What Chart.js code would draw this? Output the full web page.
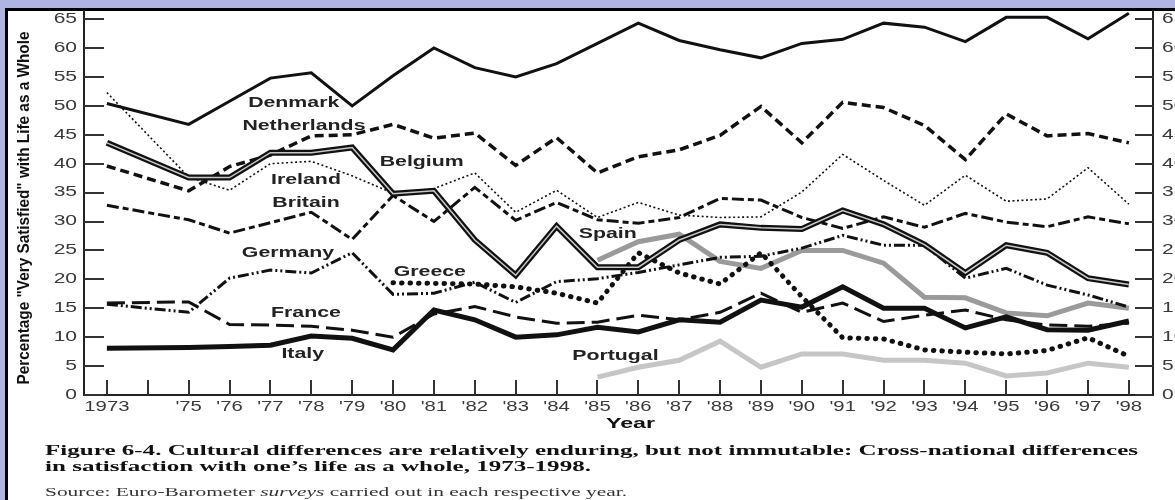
<!DOCTYPE html>
<html>
<head>
<meta charset="utf-8">
<script src="https://cdn.jsdelivr.net/npm/chart.js@4/dist/chart.umd.min.js"></script>
<style>
    html, body { margin: 0; padding: 0; width: 1175px; height: 500px; overflow: hidden; background: #b0b4e2; }
    #frame { position: absolute; left: 5px; top: 8px; width: 1170px; height: 492px; box-sizing: border-box;
             background: #fff; border-top: 3px solid #000; border-left: 3px solid #000; }
    #chart { position: absolute; left: 0; top: 0; }
</style>
</head>
<body>
<div id="frame"></div>
<canvas id="chart" width="1175" height="500"></canvas>
<script>
(function () {
    'use strict';

    // survey years (no survey in 1974)
    const years73 = [1973, 1975, 1976, 1977, 1978, 1979, 1980, 1981, 1982, 1983, 1984, 1985, 1986,
        1987, 1988, 1989, 1990, 1991, 1992, 1993, 1994, 1995, 1996, 1997, 1998];
    const years80 = [1980, 1981, 1982, 1983, 1984, 1985, 1986, 1987, 1988, 1989, 1990, 1991, 1992,
        1993, 1994, 1995, 1996, 1997, 1998];
    const years85 = [1985, 1986, 1987, 1988, 1989, 1990, 1991, 1992, 1993, 1994, 1995, 1996, 1997, 1998];

    // % "very satisfied"
    const denmark = [50.4, 46.8, 50.8, 54.8, 55.7, 50.0, 55.2, 60.0, 56.6, 55.0, 57.3, 60.8, 64.3,
        61.3, 59.7, 58.3, 60.8, 61.5, 64.3, 63.6, 61.1, 65.3, 65.3, 61.6, 66.0];
    const netherlands = [39.6, 35.3, 39.5, 41.5, 44.8, 45.0, 46.8, 44.4, 45.3, 39.7, 44.5, 38.4, 41.2,
        42.4, 44.9, 49.9, 43.6, 50.6, 49.7, 46.6, 40.7, 48.6, 44.8, 45.2, 43.6];
    const belgium = [43.6, 37.6, 37.6, 41.9, 41.9, 42.8, 34.8, 35.3, 26.8, 20.7, 29.2, 22.1, 22.1,
        26.8, 29.5, 28.9, 28.7, 31.9, 29.5, 26.0, 21.1, 25.9, 24.6, 20.2, 19.1];
    const ireland = [52.3, 37.7, 35.4, 40.0, 40.4, 37.9, 34.9, 35.7, 38.4, 31.6, 35.4, 30.7, 33.3,
        31.1, 30.7, 30.8, 35.1, 41.6, 37.1, 32.8, 38.0, 33.5, 33.9, 39.3, 33.0];
    const britain = [32.8, 30.3, 28.0, 29.8, 31.6, 26.9, 34.5, 30.0, 35.9, 30.2, 33.3, 30.3, 29.7,
        30.7, 34.0, 33.7, 30.7, 28.8, 30.8, 29.0, 31.4, 29.9, 29.1, 30.8, 29.6];
    const germany = [15.7, 14.3, 20.2, 21.6, 21.1, 24.6, 17.4, 17.6, 19.5, 16.0, 19.6, 20.1, 21.2,
        22.5, 23.8, 24.0, 25.4, 27.6, 25.9, 25.9, 20.2, 21.9, 19.0, 17.3, 15.2];
    const france = [15.9, 16.1, 12.2, 12.1, 11.9, 11.2, 10.0, 14.0, 15.3, 13.5, 12.4, 12.6, 13.8,
        13.0, 14.3, 17.6, 14.3, 15.9, 12.7, 13.8, 14.7, 13.0, 12.1, 11.9, 12.4];
    const italy = [8.1, 8.2, 8.4, 8.6, 10.2, 9.8, 7.8, 14.7, 13.0, 10.0, 10.4, 11.7, 10.9,
        13.0, 12.6, 16.4, 15.2, 18.7, 15.0, 15.0, 11.6, 13.5, 11.3, 11.2, 12.8];
    const greece = [19.4, 19.3, 19.2, 18.7, 17.6, 15.9, 24.6, 21.1, 19.2, 24.6, 17.0, 9.9, 9.7,
        7.8, 7.4, 7.1, 7.7, 9.9, 6.7];
    const spain = [23.3, 26.5, 27.8, 23.1, 21.9, 25.0, 25.0, 22.8, 16.9, 16.8, 14.2, 13.7, 15.9, 15.0];
    const portugal = [3.1, 4.8, 6.0, 9.3, 4.8, 7.1, 7.1, 6.0, 6.0, 5.5, 3.3, 3.8, 5.5, 4.8];

    const tickYears = [1973, 1974, 1975, 1976, 1977, 1978, 1979, 1980, 1981, 1982, 1983, 1984, 1985,
        1986, 1987, 1988, 1989, 1990, 1991, 1992, 1993, 1994, 1995, 1996, 1997, 1998];
    const tickLabels = ['1973', '', "'75", "'76", "'77", "'78", "'79", "'80", "'81", "'82", "'83", "'84", "'85",
        "'86", "'87", "'88", "'89", "'90", "'91", "'92", "'93", "'94", "'95", "'96", "'97", "'98"];
    const valueTicks = [0, 5, 10, 15, 20, 25, 30, 35, 40, 45, 50, 55, 60, 65];

    // country names written inside the plot (year, value)
    const seriesNotes = [
        { text: 'Denmark', x: 1977.57, y: 50.5 },
        { text: 'Netherlands', x: 1977.82, y: 46.5 },
        { text: 'Belgium', x: 1980.70, y: 40.3 },
        { text: 'Ireland', x: 1977.87, y: 37.2 },
        { text: 'Britain', x: 1977.87, y: 33.2 },
        { text: 'Germany', x: 1977.43, y: 24.5 },
        { text: 'Greece', x: 1980.90, y: 21.3 },
        { text: 'France', x: 1977.87, y: 14.2 },
        { text: 'Italy', x: 1977.79, y: 7.1 },
        { text: 'Spain', x: 1985.25, y: 27.8 },
        { text: 'Portugal', x: 1985.44, y: 6.7 }
    ];

    const captionLines = [
        'Figure 6-4. Cultural differences are relatively enduring, but not immutable: Cross-national differences',
        'in satisfaction with one\u2019s life as a whole, 1973-1998.'
    ];
    const sourceParts = [
        { text: 'Source: Euro-Barometer ', italic: false },
        { text: 'surveys', italic: true },
        { text: ' carried out in each respective year.', italic: false }
    ];

    function points(xs, ys) {
        return xs.map(function (x, i) { return { x: x, y: ys[i] }; });
    }

    function series(label, xs, ys, style) {
        return Object.assign({
            label: label,
            data: points(xs, ys),
            pointRadius: 0,
            tension: 0,
            fill: false,
            borderColor: '#111',
            borderWidth: 3,
            order: 5
        }, style);
    }

    // text stretched horizontally like the scanned original
    function drawText(ctx, text, x, y, o) {
        ctx.save();
        ctx.font = o.font;
        ctx.fillStyle = o.color || '#111';
        ctx.textBaseline = o.baseline || 'middle';
        ctx.textAlign = 'left';
        const w = ctx.measureText(text).width;
        const sx = o.width ? o.width / w : (o.sx || 1);
        let left = x;
        if (o.align === 'center') left = x - w * sx / 2;
        else if (o.align === 'right') left = x - w * sx;
        ctx.translate(left, y);
        ctx.scale(sx, 1);
        ctx.fillText(text, 0, 0);
        ctx.restore();
        return sx;
    }

    const decorPlugin = {
        id: 'decor',
        beforeDatasetsDraw: function (chart) {
            const ctx = chart.ctx;
            const area = chart.chartArea;
            const xs = chart.scales.x, yl = chart.scales.y;
            ctx.save();
            ctx.strokeStyle = '#333';
            ctx.lineWidth = 2;
            ctx.beginPath();
            yl.ticks.forEach(function (t) {
                const py = Math.round(yl.getPixelForValue(t.value));
                ctx.moveTo(area.left, py); ctx.lineTo(area.left + 20, py);
                ctx.moveTo(area.right - 18, py); ctx.lineTo(area.right, py);
            });
            xs.ticks.forEach(function (t) {
                const px = Math.round(xs.getPixelForValue(t.value));
                ctx.moveTo(px, area.bottom); ctx.lineTo(px, area.bottom - 15);
            });
            ctx.stroke();
            ctx.restore();
        },
        afterDraw: function (chart) {
            const ctx = chart.ctx;
            const area = chart.chartArea;
            const xs = chart.scales.x, yl = chart.scales.y;
            const tickFont = '14px "Liberation Sans", Arial, sans-serif';

            yl.ticks.forEach(function (t) {
                const py = yl.getPixelForValue(t.value);
                drawText(ctx, t.label, area.left - 7, py, { font: tickFont, color: '#3a3a3a', align: 'right', sx: 1.5 });
                drawText(ctx, t.label, area.right + 9, py, { font: tickFont, color: '#3a3a3a', align: 'left', sx: 1.5 });
            });
            xs.ticks.forEach(function (t) {
                if (!t.label) return;
                const px = xs.getPixelForValue(t.value);
                drawText(ctx, t.label, px, area.bottom + 12, { font: tickFont, color: '#3a3a3a', align: 'center', sx: 1.45 });
            });

            drawText(ctx, 'Year', (area.left + area.right) / 2 + 12, area.bottom + 29,
                { font: 'bold 15px "Liberation Sans", Arial, sans-serif', color: '#111', align: 'center', sx: 1.55 });

            // rotated y title
            ctx.save();
            ctx.font = 'bold 13px "Liberation Sans", Arial, sans-serif';
            const title = 'Percentage "Very Satisfied" with Life as a Whole';
            const tw = ctx.measureText(title).width;
            ctx.translate(25, 208);
            ctx.rotate(-Math.PI / 2);
            ctx.scale(353 / tw, 1.2);
            ctx.fillStyle = '#111';
            ctx.textAlign = 'center';
            ctx.textBaseline = 'middle';
            ctx.fillText(title, 0, 0);
            ctx.restore();

            seriesNotes.forEach(function (n) {
                drawText(ctx, n.text, xs.getPixelForValue(n.x), yl.getPixelForValue(n.y),
                    { font: 'bold 15px "Liberation Sans", Arial, sans-serif', color: '#222', align: 'center', sx: 1.42 });
            });

            const capFont = 'bold 15px "Liberation Serif", "Times New Roman", serif';
            const capScale = drawText(ctx, captionLines[0], 45, 455,
                { font: capFont, color: '#111', baseline: 'alphabetic', width: 1093 });
            drawText(ctx, captionLines[1], 45, 471,
                { font: capFont, color: '#111', baseline: 'alphabetic', sx: capScale });

            // source line, "surveys" in italics
            const srcFont = function (p) {
                return (p.italic ? 'italic ' : '') + '12px "Liberation Serif", "Times New Roman", serif';
            };
            let total = 0;
            sourceParts.forEach(function (p) { ctx.font = srcFont(p); total += ctx.measureText(p.text).width; });
            const srcScale = 582 / total;
            let sx = 45;
            sourceParts.forEach(function (p) {
                ctx.font = srcFont(p);
                const w = ctx.measureText(p.text).width;
                drawText(ctx, p.text, sx, 496, { font: srcFont(p), color: '#333', baseline: 'alphabetic', sx: srcScale });
                sx += w * srcScale;
            });
        }
    };

    document.addEventListener('DOMContentLoaded', function () {
        const canvas = document.getElementById('chart');

        new Chart(canvas, {
            type: 'line',
            data: {
                datasets: [
                    series('Denmark', years73, denmark, { borderWidth: 3 }),
                    series('Netherlands', years73, netherlands, { borderWidth: 3.5, borderDash: [9, 5] }),
                    series('Belgium', years73, belgium, { borderWidth: 6, borderColor: '#111', order: 2 }),
                    series('Belgium core', years73, belgium, { borderWidth: 1.5, borderColor: '#c8c8c8', order: 1 }),
                    series('Ireland', years73, ireland, { borderWidth: 1.6, borderDash: [2, 2.5] }),
                    series('Britain', years73, britain, { borderWidth: 3, borderDash: [12, 4, 6, 4] }),
                    series('Germany', years73, germany, { borderWidth: 3, borderDash: [11, 3, 2, 3, 2, 3] }),
                    series('Greece', years80, greece, { borderWidth: 5, borderDash: [0.5, 8], borderCapStyle: 'round' }),
                    series('France', years73, france, { borderWidth: 3, borderDash: [18, 7] }),
                    series('Italy', years73, italy, { borderWidth: 5 }),
                    series('Spain', years85, spain, { borderWidth: 5, borderColor: '#9a9a9a', order: 10 }),
                    series('Portugal', years85, portugal, { borderWidth: 5, borderColor: '#c6c6c6', order: 10 })
                ]
            },
            options: {
                responsive: false,
                animation: false,
                devicePixelRatio: 1,
                layout: { padding: { top: 11, left: 0, right: 0, bottom: 0 } },
                plugins: {
                    legend: { display: false },
                    tooltip: { enabled: false }
                },
                scales: {
                    x: {
                        type: 'linear',
                        min: 1972.44,
                        max: 1998.59,
                        afterBuildTicks: function (scale) {
                            scale.ticks = tickYears.map(function (v) { return { value: v }; });
                        },
                        afterFit: function (scale) { scale.height = 105; },
                        ticks: {
                            display: false,
                            callback: function (value, index) { return tickLabels[index]; }
                        },
                        grid: { display: false },
                        border: { display: true, color: '#222', width: 2 }
                    },
                    y: {
                        position: 'left',
                        min: 0,
                        max: 66.4,
                        afterBuildTicks: function (scale) {
                            scale.ticks = valueTicks.map(function (v) { return { value: v }; });
                        },
                        afterFit: function (scale) { scale.width = 84; },
                        ticks: { display: false },
                        grid: { display: false },
                        border: { display: true, color: '#222', width: 2 }
                    },
                    y2: {
                        position: 'right',
                        min: 0,
                        max: 66.4,
                        afterFit: function (scale) { scale.width = 22; },
                        ticks: { display: false },
                        grid: { display: false },
                        border: { display: true, color: '#222', width: 2 }
                    }
                }
            },
            plugins: [decorPlugin]
        });
    });
})();
</script>
</body>
</html>
